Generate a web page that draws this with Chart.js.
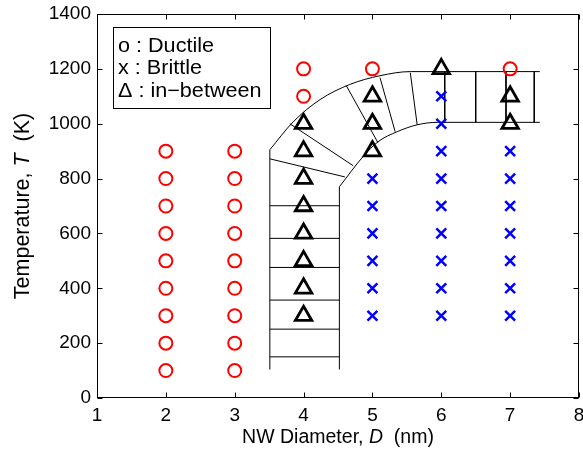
<!DOCTYPE html>
<html>
<head>
<meta charset="utf-8">
<script src="https://cdn.jsdelivr.net/npm/chart.js@4.4.1/dist/chart.umd.min.js"></script>
<style>
  html, body { margin: 0; padding: 0; background: #fff; }
  #wrap { width: 583px; height: 454px; position: relative; }
</style>
</head>
<body>
<div id="wrap"><canvas id="c" width="583" height="454"></canvas></div>
<script>
// ---- data ----
const xTicks = [1, 2, 3, 4, 5, 6, 7, 8];
const yTicks = [0, 200, 400, 600, 800, 1000, 1200, 1400];

const ductileD = [2,2,2,2,2,2,2,2,2, 3,3,3,3,3,3,3,3,3, 4,4, 5, 7];
const ductileT = [100,200,300,400,500,600,700,800,900, 100,200,300,400,500,600,700,800,900, 1100,1200, 1200, 1200];

const brittleD = [5,5,5,5,5,5, 6,6,6,6,6,6,6,6,6, 7,7,7,7,7,7,7];
const brittleT = [300,400,500,600,700,800, 300,400,500,600,700,800,900,1000,1100, 300,400,500,600,700,800,900];

const betweenD = [4,4,4,4,4,4,4,4, 5,5,5, 6, 7,7];
const betweenT = [300,400,500,600,700,800,900,1000, 900,1000,1100, 1200, 1000,1100];

// outline of the transition band
const leftEdgeD  = [3.51, 3.51];  const leftEdgeT  = [104, 905];
const rightEdgeD = [4.52, 4.52];  const rightEdgeT = [104, 770];
const outerArcD = [3.51, 3.85, 4.24, 4.67, 5.11, 5.55, 7.43];
const outerArcT = [905, 1007, 1088, 1143, 1175, 1190, 1190];
const innerArcD = [4.52, 4.86, 5.08, 5.36, 5.65, 5.94, 7.43];
const innerArcT = [770, 879, 934, 971, 996, 1005, 1005];
const rungLevels = [150, 251, 357, 476, 582, 701];          // horizontal rungs in the vertical band
const slantFromD = [3.51, 3.80, 4.62, 5.11, 5.55];
const slantFromT = [872, 1000, 1139, 1168, 1186];
const slantToD   = [4.60, 4.72, 5.08, 5.33, 5.65];
const slantToT   = [806, 847, 931, 971, 996];
const topRungD = [6.05, 6.50, 6.94, 7.35];                  // vertical rungs in the top band

const legendLines = ['o : Ductile', 'x : Brittle', '\u0394 : in\u2212between'];

// ---- build datasets ----
const pts = (xs, ys) => xs.map((x, i) => ({x: x, y: ys[i]}));
const segs = [];
rungLevels.forEach(t => { segs.push({x: leftEdgeD[0], y: t}, {x: rightEdgeD[0], y: t}, {x: rightEdgeD[0], y: null}); });
slantFromD.forEach((d, i) => { segs.push({x: d, y: slantFromT[i]}, {x: slantToD[i], y: slantToT[i]}, {x: slantToD[i], y: null}); });
topRungD.forEach(d => { segs.push({x: d, y: outerArcT[outerArcT.length-1]}, {x: d, y: innerArcT[innerArcT.length-1]}, {x: d, y: null}); });

const lineStyle = {type: 'line', showLine: true, pointRadius: 0, borderColor: '#000', borderWidth: 1, fill: false, order: 5, spanGaps: false};

const datasets = [
  Object.assign({}, lineStyle, {data: pts(leftEdgeD, leftEdgeT)}),
  Object.assign({}, lineStyle, {data: pts(rightEdgeD, rightEdgeT)}),
  Object.assign({}, lineStyle, {data: pts(outerArcD, outerArcT), cubicInterpolationMode: 'monotone'}),
  Object.assign({}, lineStyle, {data: pts(innerArcD, innerArcT), cubicInterpolationMode: 'monotone'}),
  Object.assign({}, lineStyle, {data: segs}),
  {type: 'scatter', data: pts(ductileD, ductileT), pointStyle: 'circle', pointRadius: 6.5, borderColor: '#ff0000', backgroundColor: 'rgba(0,0,0,0)', pointBorderWidth: 2, order: 1},
  {type: 'scatter', data: pts(brittleD, brittleT), pointStyle: 'crossRot', pointRadius: 7, borderColor: '#0000ff', pointBorderWidth: 2.5, order: 1},
  {type: 'scatter', data: pts(betweenD, betweenT), pointStyle: 'triangle', pointRadius: 9.5, borderColor: '#000', backgroundColor: 'rgba(0,0,0,0)', pointBorderWidth: 2.8, order: 0}
];

const FONT = '"Liberation Sans", Arial, Helvetica, sans-serif';

const framePlugin = {
  id: 'frame',
  afterDraw(chart) {
    const ctx = chart.ctx, a = chart.chartArea;
    const xs = chart.scales.x, ys = chart.scales.y;
    const L = Math.round(a.left) + 0.5, R = Math.round(a.right) - 0.5, T = Math.round(a.top) + 0.5, B = Math.round(a.bottom) - 0.5;
    ctx.save();
    ctx.strokeStyle = '#000'; ctx.lineWidth = 1;
    ctx.strokeRect(L, T, R - L, B - T);
    const tl = 5;
    ctx.beginPath();
    xTicks.forEach(v => {
      const px = Math.round(xs.getPixelForValue(v)) + 0.5;
      ctx.moveTo(px, B); ctx.lineTo(px, B - tl);
      ctx.moveTo(px, T); ctx.lineTo(px, T + tl);
    });
    yTicks.forEach(v => {
      const py = Math.round(ys.getPixelForValue(v)) + 0.5;
      ctx.moveTo(L, py); ctx.lineTo(L + tl, py);
      ctx.moveTo(R, py); ctx.lineTo(R - tl, py);
    });
    ctx.stroke();

    // legend box
    const bx = 113.5, by = 27.5, bw = 157, bh = 81;
    ctx.fillStyle = '#fff';
    ctx.fillRect(bx, by, bw, bh);
    ctx.strokeRect(bx, by, bw, bh);
    ctx.fillStyle = '#000';
    ctx.font = '20px ' + FONT;
    ctx.textBaseline = 'middle';
    ctx.textAlign = 'left';
    legendLines.forEach((s, i) => {
      ctx.save();
      ctx.translate(118, 46 + i * 22.5);
      ctx.scale(1.08, 1);
      ctx.fillText(s, 0, 0);
      ctx.restore();
    });

    // axis titles with italic symbols
    const drawParts = (parts, cx, cy, size) => {
      let w = 0;
      parts.forEach(p => { ctx.font = p[1] + size + 'px ' + FONT; w += ctx.measureText(p[0]).width; });
      let x = cx - w / 2;
      parts.forEach(p => { ctx.font = p[1] + size + 'px ' + FONT; ctx.fillText(p[0], x, cy); x += ctx.measureText(p[0]).width; });
    };
    ctx.textBaseline = 'middle';
    drawParts([['NW Diameter, ', ''], ['D', 'italic '], ['  (nm)', '']], (a.left + a.right) / 2, 438, 19.5);
    ctx.save();
    ctx.translate(23, (a.top + a.bottom) / 2);
    ctx.rotate(-Math.PI / 2);
    drawParts([['Temperature, ', ''], ['T', 'italic '], ['  (K)', '']], 0, 0, 21.5);
    ctx.restore();
    ctx.restore();
  }
};

new Chart(document.getElementById('c'), {
  type: 'scatter',
  data: {datasets: datasets},
  options: {
    responsive: false,
    animation: false,
    devicePixelRatio: 1,
    layout: {autoPadding: false, padding: {left: 0, top: 14, right: 4, bottom: 0}},
    plugins: {legend: {display: false}, tooltip: {enabled: false}},
    scales: {
      x: {
        type: 'linear', min: 1, max: 8,
        afterBuildTicks: s => { s.ticks = xTicks.map(v => ({value: v})); },
        afterFit: s => { s.height = 56; s.paddingLeft = 0; s.paddingRight = 0; },
        grid: {display: false, drawTicks: false},
        border: {display: false},
        ticks: {color: '#000', font: {family: FONT, size: 19}, padding: 6, maxRotation: 0, callback: v => String(v)}
      },
      y: {
        type: 'linear', min: 0, max: 1400,
        afterBuildTicks: s => { s.ticks = yTicks.map(v => ({value: v})); },
        afterFit: s => { s.width = 97; s.paddingTop = 0; s.paddingBottom = 0; },
        grid: {display: false, drawTicks: false},
        border: {display: false},
        ticks: {color: '#000', font: {family: FONT, size: 19}, padding: 6, callback: v => String(v)}
      }
    }
  },
  plugins: [framePlugin]
});
</script>
</body>
</html>
